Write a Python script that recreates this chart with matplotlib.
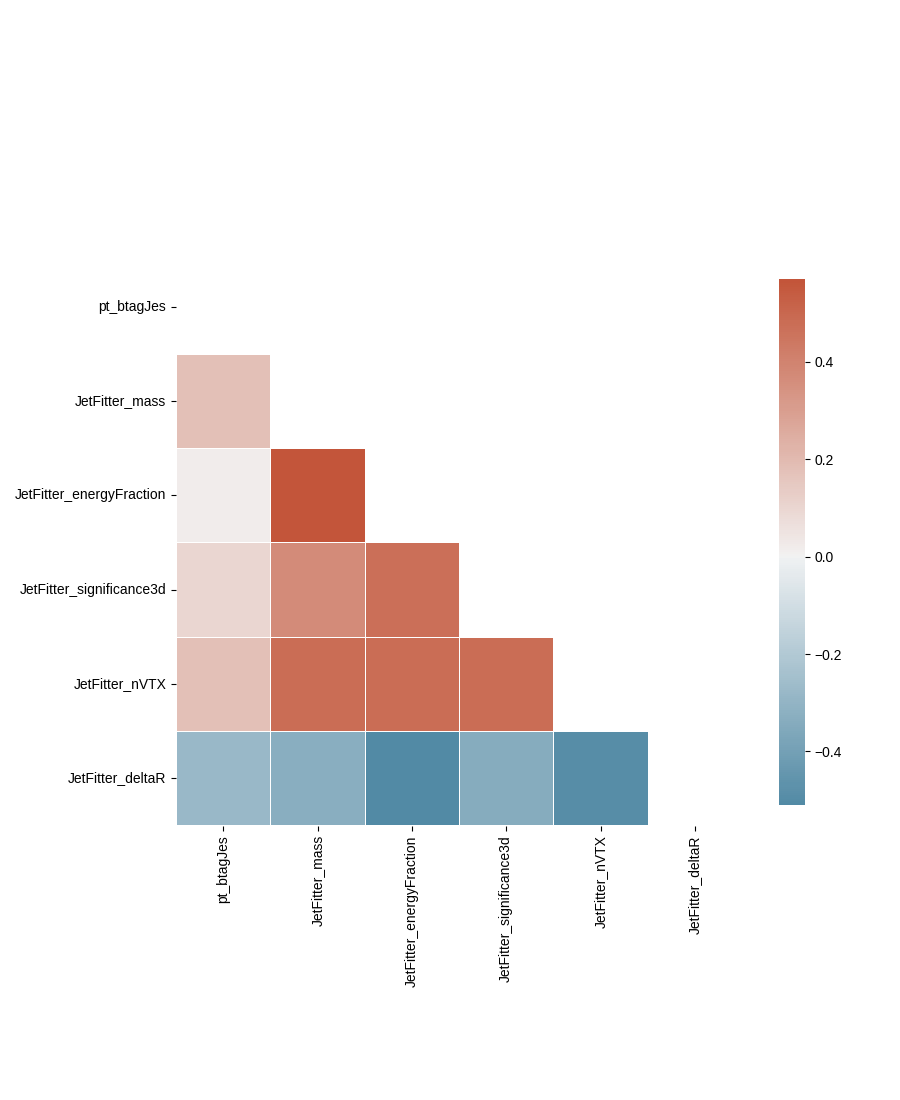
import numpy as np
import pandas as pd
import seaborn as sns
import matplotlib
matplotlib.use("Agg")
import matplotlib.pyplot as plt

plt.rcParams['font.family'] = ['Liberation Sans', 'DejaVu Sans']

# variable names (row/column order)
variables = ['pt_btagJes', 'JetFitter_mass', 'JetFitter_energyFraction',
             'JetFitter_significance3d', 'JetFitter_nVTX', 'JetFitter_deltaR']

# lower triangle correlations, row by row
row_mass = [0.18]
row_energyFraction = [0.02, 0.57]
row_significance3d = [0.10, 0.37, 0.47]
row_nVTX = [0.18, 0.48, 0.48, 0.48]
row_deltaR = [-0.28, -0.33, -0.51, -0.34, -0.49]

lower_rows = [row_mass, row_energyFraction, row_significance3d, row_nVTX, row_deltaR]

n = len(variables)
corr_values = np.eye(n)
for i, row in enumerate(lower_rows, start=1):
    for j, v in enumerate(row):
        corr_values[i, j] = v
        corr_values[j, i] = v
corr = pd.DataFrame(corr_values, index=variables, columns=variables)

# hide upper triangle
mask = np.triu(np.ones_like(corr, dtype=bool))

f = plt.figure(figsize=(9, 11))
ax = f.add_axes([176 / 900, 274 / 1100, 566 / 900, 567 / 1100])
cax = f.add_axes([779 / 900, 295 / 1100, 26 / 900, 526 / 1100])
cmap = sns.diverging_palette(230, 20, as_cmap=True)
sns.heatmap(corr, mask=mask, cmap=cmap, center=0,
            square=True, linewidths=.5, ax=ax, cbar_ax=cax)
cax.set_position([779 / 900, 295 / 1100, 26 / 900, 526 / 1100])

f.savefig("out.png", dpi=100)
